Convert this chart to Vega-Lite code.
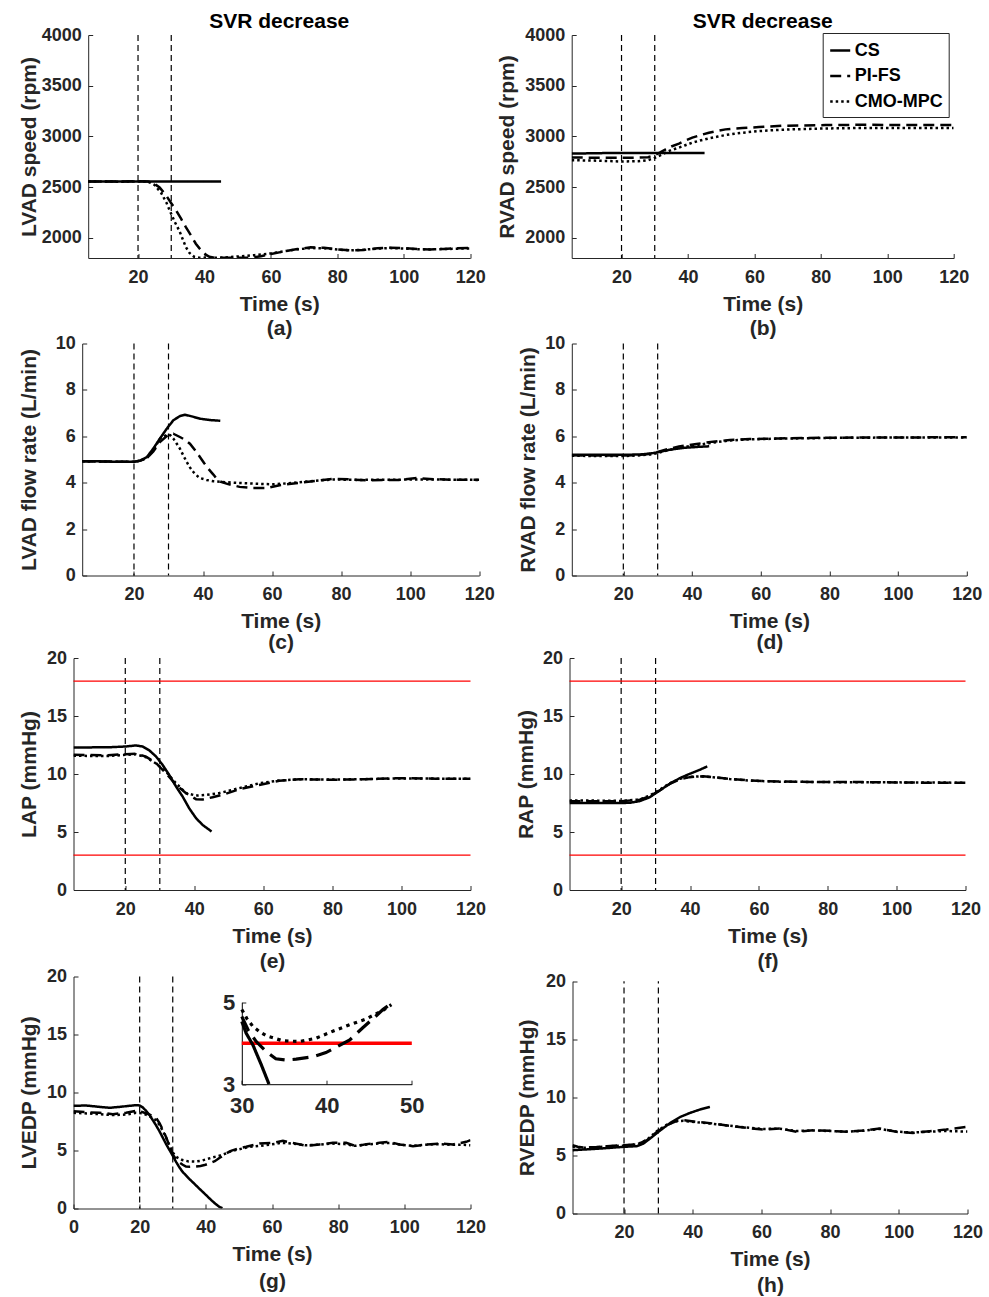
{
  "$schema": "https://vega.github.io/schema/vega-lite/v6.json",
  "padding": {"left": 17.5, "top": 10, "right": 0, "bottom": 0},
  "spacing": -3.5,
  "align": "none",
  "resolve": {"scale": {"strokeDash": "independent"}, "legend": {"strokeDash": "independent"}},
  "config": {
    "font": "Liberation Sans",
    "numberFormat": "d",
    "view": {"stroke": null},
    "axis": {"labelFont": "Liberation Sans", "labelFontWeight": "bold", "labelFontSize": 18, "labelColor": "#262626", "titleFont": "Liberation Sans", "titleFontWeight": "bold", "titleFontSize": 21, "titleColor": "#262626", "domainColor": "#262626", "domainWidth": 1, "tickColor": "#262626", "tickSize": -4.5, "tickWidth": 1, "grid": false, "labelFlush": false, "labelOverlap": false},
    "axisX": {"labelPadding": 14.5, "titlePadding": 7, "titleLineHeight": 23},
    "axisY": {"labelPadding": 11.5},
    "title": {"font": "Liberation Sans", "fontWeight": "bold", "fontSize": 21, "color": "#000000", "baseline": "alphabetic", "offset": -5.5, "anchor": "middle"}
  },
  "datasets": {
    "ev": [{"t": 20}, {"t": 30}],
    "lim": [{"lv": 3}, {"lv": 18}],
    "lim4": [{"lv": 4}],
    "a": [
      {"t": 5, "v": 2555, "m": "CS"}, {"t": 25, "v": 2555, "m": "CS"}, {"t": 45, "v": 2555, "m": "CS"},
      {"t": 5, "v": 2555, "m": "PI-FS"}, {"t": 15, "v": 2555, "m": "PI-FS"}, {"t": 20, "v": 2558, "m": "PI-FS"}, {"t": 23, "v": 2555, "m": "PI-FS"}, {"t": 25, "v": 2530, "m": "PI-FS"}, {"t": 26.5, "v": 2496, "m": "PI-FS"}, {"t": 28.5, "v": 2415, "m": "PI-FS"}, {"t": 30, "v": 2340, "m": "PI-FS"}, {"t": 31.5, "v": 2268, "m": "PI-FS"}, {"t": 33, "v": 2185, "m": "PI-FS"}, {"t": 34.4, "v": 2104, "m": "PI-FS"}, {"t": 36, "v": 2020, "m": "PI-FS"}, {"t": 37.4, "v": 1941, "m": "PI-FS"}, {"t": 38.5, "v": 1895, "m": "PI-FS"}, {"t": 39.5, "v": 1859, "m": "PI-FS"}, {"t": 40.5, "v": 1830, "m": "PI-FS"}, {"t": 41.5, "v": 1812, "m": "PI-FS"}, {"t": 43, "v": 1803, "m": "PI-FS"}, {"t": 46, "v": 1802, "m": "PI-FS"}, {"t": 50, "v": 1802, "m": "PI-FS"}, {"t": 54, "v": 1803, "m": "PI-FS"}, {"t": 57, "v": 1818, "m": "PI-FS"}, {"t": 60, "v": 1840, "m": "PI-FS"}, {"t": 64, "v": 1865, "m": "PI-FS"}, {"t": 68, "v": 1888, "m": "PI-FS"}, {"t": 72, "v": 1905, "m": "PI-FS"}, {"t": 76, "v": 1900, "m": "PI-FS"}, {"t": 80, "v": 1885, "m": "PI-FS"}, {"t": 84, "v": 1875, "m": "PI-FS"}, {"t": 88, "v": 1880, "m": "PI-FS"}, {"t": 92, "v": 1895, "m": "PI-FS"}, {"t": 96, "v": 1902, "m": "PI-FS"}, {"t": 100, "v": 1897, "m": "PI-FS"}, {"t": 104, "v": 1888, "m": "PI-FS"}, {"t": 108, "v": 1885, "m": "PI-FS"}, {"t": 112, "v": 1890, "m": "PI-FS"}, {"t": 116, "v": 1896, "m": "PI-FS"}, {"t": 120, "v": 1900, "m": "PI-FS"},
      {"t": 5, "v": 2555, "m": "CMO-MPC"}, {"t": 15, "v": 2553, "m": "CMO-MPC"}, {"t": 20, "v": 2555, "m": "CMO-MPC"}, {"t": 23, "v": 2555, "m": "CMO-MPC"}, {"t": 25, "v": 2520, "m": "CMO-MPC"}, {"t": 27, "v": 2440, "m": "CMO-MPC"}, {"t": 28.5, "v": 2349, "m": "CMO-MPC"}, {"t": 30, "v": 2235, "m": "CMO-MPC"}, {"t": 31, "v": 2160, "m": "CMO-MPC"}, {"t": 32.4, "v": 2071, "m": "CMO-MPC"}, {"t": 33.4, "v": 1990, "m": "CMO-MPC"}, {"t": 34.4, "v": 1908, "m": "CMO-MPC"}, {"t": 35.5, "v": 1850, "m": "CMO-MPC"}, {"t": 36.9, "v": 1812, "m": "CMO-MPC"}, {"t": 38.5, "v": 1803, "m": "CMO-MPC"}, {"t": 42, "v": 1801, "m": "CMO-MPC"}, {"t": 46, "v": 1805, "m": "CMO-MPC"}, {"t": 50, "v": 1815, "m": "CMO-MPC"}, {"t": 55, "v": 1828, "m": "CMO-MPC"}, {"t": 60, "v": 1845, "m": "CMO-MPC"}, {"t": 64, "v": 1866, "m": "CMO-MPC"}, {"t": 68, "v": 1886, "m": "CMO-MPC"}, {"t": 72, "v": 1898, "m": "CMO-MPC"}, {"t": 76, "v": 1896, "m": "CMO-MPC"}, {"t": 80, "v": 1883, "m": "CMO-MPC"}, {"t": 84, "v": 1876, "m": "CMO-MPC"}, {"t": 88, "v": 1882, "m": "CMO-MPC"}, {"t": 92, "v": 1893, "m": "CMO-MPC"}, {"t": 96, "v": 1898, "m": "CMO-MPC"}, {"t": 100, "v": 1893, "m": "CMO-MPC"}, {"t": 104, "v": 1887, "m": "CMO-MPC"}, {"t": 108, "v": 1885, "m": "CMO-MPC"}, {"t": 112, "v": 1888, "m": "CMO-MPC"}, {"t": 116, "v": 1892, "m": "CMO-MPC"}, {"t": 120, "v": 1895, "m": "CMO-MPC"}
    ],
    "b": [
      {"t": 5, "v": 2830, "m": "CS"}, {"t": 15, "v": 2835, "m": "CS"}, {"t": 25, "v": 2835, "m": "CS"}, {"t": 35, "v": 2835, "m": "CS"}, {"t": 45, "v": 2835, "m": "CS"},
      {"t": 5, "v": 2792, "m": "PI-FS"}, {"t": 10, "v": 2790, "m": "PI-FS"}, {"t": 20, "v": 2790, "m": "PI-FS"}, {"t": 25, "v": 2790, "m": "PI-FS"}, {"t": 28, "v": 2795, "m": "PI-FS"}, {"t": 30, "v": 2815, "m": "PI-FS"}, {"t": 31.5, "v": 2840, "m": "PI-FS"}, {"t": 33.3, "v": 2872, "m": "PI-FS"}, {"t": 35, "v": 2900, "m": "PI-FS"}, {"t": 37.3, "v": 2928, "m": "PI-FS"}, {"t": 39, "v": 2955, "m": "PI-FS"}, {"t": 41.3, "v": 2987, "m": "PI-FS"}, {"t": 44, "v": 3015, "m": "PI-FS"}, {"t": 46.3, "v": 3036, "m": "PI-FS"}, {"t": 49, "v": 3055, "m": "PI-FS"}, {"t": 51.3, "v": 3069, "m": "PI-FS"}, {"t": 54, "v": 3077, "m": "PI-FS"}, {"t": 56.4, "v": 3082, "m": "PI-FS"}, {"t": 61.4, "v": 3092, "m": "PI-FS"}, {"t": 68.4, "v": 3105, "m": "PI-FS"}, {"t": 75, "v": 3108, "m": "PI-FS"}, {"t": 81.4, "v": 3111, "m": "PI-FS"}, {"t": 91.5, "v": 3114, "m": "PI-FS"}, {"t": 100, "v": 3113, "m": "PI-FS"}, {"t": 110, "v": 3112, "m": "PI-FS"}, {"t": 120, "v": 3111, "m": "PI-FS"},
      {"t": 5, "v": 2765, "m": "CMO-MPC"}, {"t": 10, "v": 2762, "m": "CMO-MPC"}, {"t": 15, "v": 2758, "m": "CMO-MPC"}, {"t": 20, "v": 2752, "m": "CMO-MPC"}, {"t": 25, "v": 2755, "m": "CMO-MPC"}, {"t": 28, "v": 2765, "m": "CMO-MPC"}, {"t": 30, "v": 2788, "m": "CMO-MPC"}, {"t": 31.5, "v": 2810, "m": "CMO-MPC"}, {"t": 33.3, "v": 2840, "m": "CMO-MPC"}, {"t": 35, "v": 2865, "m": "CMO-MPC"}, {"t": 37.3, "v": 2889, "m": "CMO-MPC"}, {"t": 39, "v": 2910, "m": "CMO-MPC"}, {"t": 41.3, "v": 2938, "m": "CMO-MPC"}, {"t": 44, "v": 2962, "m": "CMO-MPC"}, {"t": 46.3, "v": 2980, "m": "CMO-MPC"}, {"t": 49, "v": 2998, "m": "CMO-MPC"}, {"t": 51.3, "v": 3013, "m": "CMO-MPC"}, {"t": 54, "v": 3026, "m": "CMO-MPC"}, {"t": 56.4, "v": 3036, "m": "CMO-MPC"}, {"t": 61.4, "v": 3052, "m": "CMO-MPC"}, {"t": 66, "v": 3062, "m": "CMO-MPC"}, {"t": 71.4, "v": 3069, "m": "CMO-MPC"}, {"t": 81.4, "v": 3078, "m": "CMO-MPC"}, {"t": 91.5, "v": 3082, "m": "CMO-MPC"}, {"t": 120, "v": 3082, "m": "CMO-MPC"}
    ],
    "c": [
      {"t": 5, "v": 4.92, "m": "CS"}, {"t": 10, "v": 4.92, "m": "CS"}, {"t": 15, "v": 4.9, "m": "CS"}, {"t": 20, "v": 4.9, "m": "CS"}, {"t": 21.7, "v": 4.95, "m": "CS"}, {"t": 23.7, "v": 5.1, "m": "CS"}, {"t": 25.6, "v": 5.47, "m": "CS"}, {"t": 27.5, "v": 5.9, "m": "CS"}, {"t": 29.5, "v": 6.33, "m": "CS"}, {"t": 31.4, "v": 6.69, "m": "CS"}, {"t": 33.3, "v": 6.87, "m": "CS"}, {"t": 34.8, "v": 6.93, "m": "CS"}, {"t": 36.7, "v": 6.86, "m": "CS"}, {"t": 39.1, "v": 6.76, "m": "CS"}, {"t": 42, "v": 6.7, "m": "CS"}, {"t": 45, "v": 6.67, "m": "CS"},
      {"t": 5, "v": 4.92, "m": "PI-FS"}, {"t": 20, "v": 4.9, "m": "PI-FS"}, {"t": 22, "v": 4.95, "m": "PI-FS"}, {"t": 24, "v": 5.1, "m": "PI-FS"}, {"t": 25.6, "v": 5.35, "m": "PI-FS"}, {"t": 27.5, "v": 5.75, "m": "PI-FS"}, {"t": 29.5, "v": 6.01, "m": "PI-FS"}, {"t": 31.4, "v": 6.11, "m": "PI-FS"}, {"t": 33.3, "v": 5.97, "m": "PI-FS"}, {"t": 34.8, "v": 5.85, "m": "PI-FS"}, {"t": 36.2, "v": 5.68, "m": "PI-FS"}, {"t": 37.7, "v": 5.4, "m": "PI-FS"}, {"t": 39.1, "v": 5.11, "m": "PI-FS"}, {"t": 40.3, "v": 4.85, "m": "PI-FS"}, {"t": 41.5, "v": 4.61, "m": "PI-FS"}, {"t": 43, "v": 4.35, "m": "PI-FS"}, {"t": 43.9, "v": 4.18, "m": "PI-FS"}, {"t": 45, "v": 4.05, "m": "PI-FS"}, {"t": 46.8, "v": 3.96, "m": "PI-FS"}, {"t": 50.6, "v": 3.82, "m": "PI-FS"}, {"t": 54.5, "v": 3.77, "m": "PI-FS"}, {"t": 58.4, "v": 3.77, "m": "PI-FS"}, {"t": 62.2, "v": 3.89, "m": "PI-FS"}, {"t": 68, "v": 4.0, "m": "PI-FS"}, {"t": 73.9, "v": 4.1, "m": "PI-FS"}, {"t": 77.8, "v": 4.17, "m": "PI-FS"}, {"t": 82, "v": 4.15, "m": "PI-FS"}, {"t": 87.4, "v": 4.1, "m": "PI-FS"}, {"t": 92, "v": 4.12, "m": "PI-FS"}, {"t": 97.1, "v": 4.12, "m": "PI-FS"}, {"t": 101.9, "v": 4.2, "m": "PI-FS"}, {"t": 106.8, "v": 4.15, "m": "PI-FS"}, {"t": 112, "v": 4.13, "m": "PI-FS"}, {"t": 120, "v": 4.13, "m": "PI-FS"},
      {"t": 5, "v": 4.92, "m": "CMO-MPC"}, {"t": 20, "v": 4.9, "m": "CMO-MPC"}, {"t": 22, "v": 4.95, "m": "CMO-MPC"}, {"t": 24, "v": 5.1, "m": "CMO-MPC"}, {"t": 25.6, "v": 5.4, "m": "CMO-MPC"}, {"t": 27.5, "v": 5.9, "m": "CMO-MPC"}, {"t": 29.5, "v": 6.07, "m": "CMO-MPC"}, {"t": 30.5, "v": 6.05, "m": "CMO-MPC"}, {"t": 31.4, "v": 5.9, "m": "CMO-MPC"}, {"t": 32.3, "v": 5.7, "m": "CMO-MPC"}, {"t": 33.3, "v": 5.47, "m": "CMO-MPC"}, {"t": 34.3, "v": 5.17, "m": "CMO-MPC"}, {"t": 35.3, "v": 4.89, "m": "CMO-MPC"}, {"t": 36.2, "v": 4.66, "m": "CMO-MPC"}, {"t": 37.2, "v": 4.46, "m": "CMO-MPC"}, {"t": 38.1, "v": 4.32, "m": "CMO-MPC"}, {"t": 39.1, "v": 4.2, "m": "CMO-MPC"}, {"t": 41, "v": 4.12, "m": "CMO-MPC"}, {"t": 43, "v": 4.06, "m": "CMO-MPC"}, {"t": 48.8, "v": 4.0, "m": "CMO-MPC"}, {"t": 54.5, "v": 3.96, "m": "CMO-MPC"}, {"t": 60.3, "v": 3.93, "m": "CMO-MPC"}, {"t": 66.1, "v": 3.99, "m": "CMO-MPC"}, {"t": 70, "v": 4.05, "m": "CMO-MPC"}, {"t": 73.9, "v": 4.1, "m": "CMO-MPC"}, {"t": 77.8, "v": 4.14, "m": "CMO-MPC"}, {"t": 85, "v": 4.12, "m": "CMO-MPC"}, {"t": 95, "v": 4.13, "m": "CMO-MPC"}, {"t": 105, "v": 4.14, "m": "CMO-MPC"}, {"t": 120, "v": 4.12, "m": "CMO-MPC"}
    ],
    "d": [
      {"t": 5, "v": 5.21, "m": "CS"}, {"t": 15, "v": 5.2, "m": "CS"}, {"t": 20, "v": 5.2, "m": "CS"}, {"t": 25, "v": 5.22, "m": "CS"}, {"t": 27.5, "v": 5.25, "m": "CS"}, {"t": 30, "v": 5.31, "m": "CS"}, {"t": 33.5, "v": 5.42, "m": "CS"}, {"t": 37.4, "v": 5.5, "m": "CS"}, {"t": 41.3, "v": 5.54, "m": "CS"}, {"t": 45, "v": 5.57, "m": "CS"},
      {"t": 5, "v": 5.18, "m": "PI-FS"}, {"t": 15, "v": 5.17, "m": "PI-FS"}, {"t": 20, "v": 5.17, "m": "PI-FS"}, {"t": 25, "v": 5.2, "m": "PI-FS"}, {"t": 28, "v": 5.25, "m": "PI-FS"}, {"t": 30, "v": 5.33, "m": "PI-FS"}, {"t": 33, "v": 5.45, "m": "PI-FS"}, {"t": 36.2, "v": 5.56, "m": "PI-FS"}, {"t": 41.3, "v": 5.67, "m": "PI-FS"}, {"t": 46.1, "v": 5.77, "m": "PI-FS"}, {"t": 51, "v": 5.84, "m": "PI-FS"}, {"t": 56.8, "v": 5.88, "m": "PI-FS"}, {"t": 65.5, "v": 5.91, "m": "PI-FS"}, {"t": 80, "v": 5.94, "m": "PI-FS"}, {"t": 100, "v": 5.95, "m": "PI-FS"}, {"t": 120, "v": 5.96, "m": "PI-FS"},
      {"t": 5, "v": 5.16, "m": "CMO-MPC"}, {"t": 15, "v": 5.15, "m": "CMO-MPC"}, {"t": 20, "v": 5.15, "m": "CMO-MPC"}, {"t": 25, "v": 5.18, "m": "CMO-MPC"}, {"t": 28, "v": 5.22, "m": "CMO-MPC"}, {"t": 30, "v": 5.28, "m": "CMO-MPC"}, {"t": 33, "v": 5.4, "m": "CMO-MPC"}, {"t": 36.2, "v": 5.5, "m": "CMO-MPC"}, {"t": 41.3, "v": 5.62, "m": "CMO-MPC"}, {"t": 46.1, "v": 5.73, "m": "CMO-MPC"}, {"t": 51, "v": 5.82, "m": "CMO-MPC"}, {"t": 56.8, "v": 5.87, "m": "CMO-MPC"}, {"t": 65.5, "v": 5.9, "m": "CMO-MPC"}, {"t": 80, "v": 5.93, "m": "CMO-MPC"}, {"t": 100, "v": 5.95, "m": "CMO-MPC"}, {"t": 120, "v": 5.95, "m": "CMO-MPC"}
    ],
    "e": [
      {"t": 5, "v": 12.29, "m": "CS"}, {"t": 15, "v": 12.3, "m": "CS"}, {"t": 20, "v": 12.37, "m": "CS"}, {"t": 23.1, "v": 12.46, "m": "CS"}, {"t": 25, "v": 12.37, "m": "CS"}, {"t": 27, "v": 12.03, "m": "CS"}, {"t": 28.9, "v": 11.51, "m": "CS"}, {"t": 30.8, "v": 10.79, "m": "CS"}, {"t": 32.7, "v": 9.93, "m": "CS"}, {"t": 34.7, "v": 8.92, "m": "CS"}, {"t": 36.6, "v": 8.06, "m": "CS"}, {"t": 38.5, "v": 7.05, "m": "CS"}, {"t": 40.5, "v": 6.19, "m": "CS"}, {"t": 42.4, "v": 5.61, "m": "CS"}, {"t": 45, "v": 5.04, "m": "CS"},
      {"t": 5, "v": 11.65, "m": "PI-FS"}, {"t": 15, "v": 11.62, "m": "PI-FS"}, {"t": 20, "v": 11.71, "m": "PI-FS"}, {"t": 23.1, "v": 11.74, "m": "PI-FS"}, {"t": 26, "v": 11.5, "m": "PI-FS"}, {"t": 28.9, "v": 10.94, "m": "PI-FS"}, {"t": 31.8, "v": 10.07, "m": "PI-FS"}, {"t": 34.7, "v": 9.06, "m": "PI-FS"}, {"t": 37.6, "v": 8.35, "m": "PI-FS"}, {"t": 40.5, "v": 7.83, "m": "PI-FS"}, {"t": 42.4, "v": 7.8, "m": "PI-FS"}, {"t": 45.3, "v": 8.0, "m": "PI-FS"}, {"t": 49.2, "v": 8.3, "m": "PI-FS"}, {"t": 53, "v": 8.69, "m": "PI-FS"}, {"t": 58.8, "v": 9.06, "m": "PI-FS"}, {"t": 64.6, "v": 9.41, "m": "PI-FS"}, {"t": 70.4, "v": 9.55, "m": "PI-FS"}, {"t": 80.1, "v": 9.5, "m": "PI-FS"}, {"t": 89.7, "v": 9.55, "m": "PI-FS"}, {"t": 99.4, "v": 9.64, "m": "PI-FS"}, {"t": 110, "v": 9.6, "m": "PI-FS"}, {"t": 120, "v": 9.58, "m": "PI-FS"},
      {"t": 5, "v": 11.57, "m": "CMO-MPC"}, {"t": 15, "v": 11.55, "m": "CMO-MPC"}, {"t": 20, "v": 11.65, "m": "CMO-MPC"}, {"t": 23.1, "v": 11.7, "m": "CMO-MPC"}, {"t": 26, "v": 11.45, "m": "CMO-MPC"}, {"t": 28.9, "v": 10.9, "m": "CMO-MPC"}, {"t": 31.8, "v": 10.2, "m": "CMO-MPC"}, {"t": 34.7, "v": 9.2, "m": "CMO-MPC"}, {"t": 37.6, "v": 8.35, "m": "CMO-MPC"}, {"t": 40.5, "v": 8.14, "m": "CMO-MPC"}, {"t": 43.4, "v": 8.2, "m": "CMO-MPC"}, {"t": 47.2, "v": 8.35, "m": "CMO-MPC"}, {"t": 53, "v": 8.78, "m": "CMO-MPC"}, {"t": 58.8, "v": 9.2, "m": "CMO-MPC"}, {"t": 64.6, "v": 9.44, "m": "CMO-MPC"}, {"t": 70.4, "v": 9.55, "m": "CMO-MPC"}, {"t": 80, "v": 9.52, "m": "CMO-MPC"}, {"t": 90, "v": 9.56, "m": "CMO-MPC"}, {"t": 100, "v": 9.62, "m": "CMO-MPC"}, {"t": 110, "v": 9.6, "m": "CMO-MPC"}, {"t": 120, "v": 9.6, "m": "CMO-MPC"}
    ],
    "f": [
      {"t": 5, "v": 7.49, "m": "CS"}, {"t": 15, "v": 7.49, "m": "CS"}, {"t": 20, "v": 7.5, "m": "CS"}, {"t": 22.5, "v": 7.52, "m": "CS"}, {"t": 25.4, "v": 7.66, "m": "CS"}, {"t": 28.3, "v": 8.0, "m": "CS"}, {"t": 31.2, "v": 8.58, "m": "CS"}, {"t": 34.1, "v": 9.15, "m": "CS"}, {"t": 37, "v": 9.64, "m": "CS"}, {"t": 39.9, "v": 10.01, "m": "CS"}, {"t": 42.8, "v": 10.36, "m": "CS"}, {"t": 45, "v": 10.65, "m": "CS"},
      {"t": 5, "v": 7.66, "m": "PI-FS"}, {"t": 15, "v": 7.66, "m": "PI-FS"}, {"t": 20, "v": 7.66, "m": "PI-FS"}, {"t": 25.4, "v": 7.78, "m": "PI-FS"}, {"t": 28.3, "v": 8.09, "m": "PI-FS"}, {"t": 31.2, "v": 8.58, "m": "PI-FS"}, {"t": 34.1, "v": 9.15, "m": "PI-FS"}, {"t": 37, "v": 9.53, "m": "PI-FS"}, {"t": 39.9, "v": 9.73, "m": "PI-FS"}, {"t": 43.8, "v": 9.81, "m": "PI-FS"}, {"t": 46.7, "v": 9.73, "m": "PI-FS"}, {"t": 51.5, "v": 9.58, "m": "PI-FS"}, {"t": 57.3, "v": 9.44, "m": "PI-FS"}, {"t": 66, "v": 9.35, "m": "PI-FS"}, {"t": 80.5, "v": 9.3, "m": "PI-FS"}, {"t": 90.2, "v": 9.3, "m": "PI-FS"}, {"t": 99.9, "v": 9.27, "m": "PI-FS"}, {"t": 110, "v": 9.25, "m": "PI-FS"}, {"t": 120, "v": 9.24, "m": "PI-FS"},
      {"t": 5, "v": 7.72, "m": "CMO-MPC"}, {"t": 15, "v": 7.7, "m": "CMO-MPC"}, {"t": 20, "v": 7.68, "m": "CMO-MPC"}, {"t": 25.4, "v": 7.8, "m": "CMO-MPC"}, {"t": 28.3, "v": 8.15, "m": "CMO-MPC"}, {"t": 31.2, "v": 8.65, "m": "CMO-MPC"}, {"t": 34.1, "v": 9.2, "m": "CMO-MPC"}, {"t": 37, "v": 9.58, "m": "CMO-MPC"}, {"t": 39.9, "v": 9.75, "m": "CMO-MPC"}, {"t": 43.8, "v": 9.8, "m": "CMO-MPC"}, {"t": 46.7, "v": 9.72, "m": "CMO-MPC"}, {"t": 51.5, "v": 9.57, "m": "CMO-MPC"}, {"t": 57.3, "v": 9.43, "m": "CMO-MPC"}, {"t": 66, "v": 9.34, "m": "CMO-MPC"}, {"t": 80.5, "v": 9.3, "m": "CMO-MPC"}, {"t": 99.9, "v": 9.28, "m": "CMO-MPC"}, {"t": 120, "v": 9.25, "m": "CMO-MPC"}
    ],
    "g": [
      {"t": 0, "v": 8.85, "m": "CS"}, {"t": 3.8, "v": 8.88, "m": "CS"}, {"t": 7.9, "v": 8.76, "m": "CS"}, {"t": 10.9, "v": 8.68, "m": "CS"}, {"t": 13.9, "v": 8.76, "m": "CS"}, {"t": 16.9, "v": 8.85, "m": "CS"}, {"t": 18.9, "v": 8.91, "m": "CS"}, {"t": 20, "v": 8.88, "m": "CS"}, {"t": 21, "v": 8.7, "m": "CS"}, {"t": 22, "v": 8.4, "m": "CS"}, {"t": 23, "v": 8.05, "m": "CS"}, {"t": 24, "v": 7.6, "m": "CS"}, {"t": 25, "v": 7.15, "m": "CS"}, {"t": 26, "v": 6.65, "m": "CS"}, {"t": 27, "v": 6.1, "m": "CS"}, {"t": 28, "v": 5.55, "m": "CS"}, {"t": 29, "v": 5.05, "m": "CS"}, {"t": 30, "v": 4.55, "m": "CS"}, {"t": 31, "v": 4.02, "m": "CS"}, {"t": 32, "v": 3.55, "m": "CS"}, {"t": 33, "v": 3.15, "m": "CS"}, {"t": 34, "v": 2.85, "m": "CS"}, {"t": 35, "v": 2.55, "m": "CS"}, {"t": 36, "v": 2.28, "m": "CS"}, {"t": 37, "v": 2.0, "m": "CS"}, {"t": 38, "v": 1.72, "m": "CS"}, {"t": 39, "v": 1.45, "m": "CS"}, {"t": 40, "v": 1.18, "m": "CS"}, {"t": 41, "v": 0.9, "m": "CS"}, {"t": 42, "v": 0.63, "m": "CS"}, {"t": 43, "v": 0.38, "m": "CS"}, {"t": 44, "v": 0.16, "m": "CS"}, {"t": 45, "v": 0.02, "m": "CS"},
      {"t": 0, "v": 8.39, "m": "PI-FS"}, {"t": 4, "v": 8.3, "m": "PI-FS"}, {"t": 7.9, "v": 8.25, "m": "PI-FS"}, {"t": 11.9, "v": 8.13, "m": "PI-FS"}, {"t": 15.9, "v": 8.25, "m": "PI-FS"}, {"t": 18.9, "v": 8.42, "m": "PI-FS"}, {"t": 21, "v": 8.3, "m": "PI-FS"}, {"t": 23, "v": 8.1, "m": "PI-FS"}, {"t": 25, "v": 7.8, "m": "PI-FS"}, {"t": 26, "v": 7.35, "m": "PI-FS"}, {"t": 27, "v": 6.8, "m": "PI-FS"}, {"t": 28, "v": 6.15, "m": "PI-FS"}, {"t": 29, "v": 5.4, "m": "PI-FS"}, {"t": 30, "v": 4.65, "m": "PI-FS"}, {"t": 31, "v": 4.25, "m": "PI-FS"}, {"t": 31.7, "v": 4.04, "m": "PI-FS"}, {"t": 32.9, "v": 3.79, "m": "PI-FS"}, {"t": 34, "v": 3.62, "m": "PI-FS"}, {"t": 35.2, "v": 3.59, "m": "PI-FS"}, {"t": 36.4, "v": 3.61, "m": "PI-FS"}, {"t": 38.4, "v": 3.67, "m": "PI-FS"}, {"t": 39.9, "v": 3.77, "m": "PI-FS"}, {"t": 41.1, "v": 3.9, "m": "PI-FS"}, {"t": 42.7, "v": 4.08, "m": "PI-FS"}, {"t": 44.2, "v": 4.37, "m": "PI-FS"}, {"t": 45.4, "v": 4.59, "m": "PI-FS"}, {"t": 46.6, "v": 4.82, "m": "PI-FS"}, {"t": 47.6, "v": 4.97, "m": "PI-FS"}, {"t": 50, "v": 5.2, "m": "PI-FS"}, {"t": 52.2, "v": 5.32, "m": "PI-FS"}, {"t": 56.2, "v": 5.6, "m": "PI-FS"}, {"t": 60.3, "v": 5.66, "m": "PI-FS"}, {"t": 63.3, "v": 5.83, "m": "PI-FS"}, {"t": 66.3, "v": 5.66, "m": "PI-FS"}, {"t": 70.3, "v": 5.4, "m": "PI-FS"}, {"t": 74.4, "v": 5.52, "m": "PI-FS"}, {"t": 78.4, "v": 5.66, "m": "PI-FS"}, {"t": 82.4, "v": 5.66, "m": "PI-FS"}, {"t": 85.4, "v": 5.37, "m": "PI-FS"}, {"t": 88.5, "v": 5.55, "m": "PI-FS"}, {"t": 92.5, "v": 5.66, "m": "PI-FS"}, {"t": 95.5, "v": 5.75, "m": "PI-FS"}, {"t": 98.5, "v": 5.52, "m": "PI-FS"}, {"t": 102.6, "v": 5.37, "m": "PI-FS"}, {"t": 106.6, "v": 5.52, "m": "PI-FS"}, {"t": 110.6, "v": 5.6, "m": "PI-FS"}, {"t": 114.7, "v": 5.52, "m": "PI-FS"}, {"t": 118.7, "v": 5.75, "m": "PI-FS"}, {"t": 120, "v": 5.89, "m": "PI-FS"},
      {"t": 0, "v": 8.25, "m": "CMO-MPC"}, {"t": 4, "v": 8.2, "m": "CMO-MPC"}, {"t": 7.9, "v": 8.13, "m": "CMO-MPC"}, {"t": 12, "v": 8.05, "m": "CMO-MPC"}, {"t": 16, "v": 8.1, "m": "CMO-MPC"}, {"t": 18.9, "v": 8.25, "m": "CMO-MPC"}, {"t": 21, "v": 8.2, "m": "CMO-MPC"}, {"t": 23, "v": 7.95, "m": "CMO-MPC"}, {"t": 25, "v": 7.6, "m": "CMO-MPC"}, {"t": 26, "v": 7.2, "m": "CMO-MPC"}, {"t": 27, "v": 6.7, "m": "CMO-MPC"}, {"t": 28, "v": 6.1, "m": "CMO-MPC"}, {"t": 29, "v": 5.45, "m": "CMO-MPC"}, {"t": 30, "v": 4.82, "m": "CMO-MPC"}, {"t": 31.3, "v": 4.41, "m": "CMO-MPC"}, {"t": 32.9, "v": 4.18, "m": "CMO-MPC"}, {"t": 34.8, "v": 4.06, "m": "CMO-MPC"}, {"t": 36.8, "v": 4.04, "m": "CMO-MPC"}, {"t": 38.7, "v": 4.12, "m": "CMO-MPC"}, {"t": 40.7, "v": 4.29, "m": "CMO-MPC"}, {"t": 42.7, "v": 4.45, "m": "CMO-MPC"}, {"t": 44.6, "v": 4.59, "m": "CMO-MPC"}, {"t": 46.6, "v": 4.8, "m": "CMO-MPC"}, {"t": 47.6, "v": 4.94, "m": "CMO-MPC"}, {"t": 50, "v": 5.1, "m": "CMO-MPC"}, {"t": 53, "v": 5.3, "m": "CMO-MPC"}, {"t": 58.2, "v": 5.46, "m": "CMO-MPC"}, {"t": 63, "v": 5.66, "m": "CMO-MPC"}, {"t": 66, "v": 5.6, "m": "CMO-MPC"}, {"t": 70, "v": 5.45, "m": "CMO-MPC"}, {"t": 74, "v": 5.5, "m": "CMO-MPC"}, {"t": 78, "v": 5.6, "m": "CMO-MPC"}, {"t": 82, "v": 5.55, "m": "CMO-MPC"}, {"t": 85, "v": 5.4, "m": "CMO-MPC"}, {"t": 88, "v": 5.5, "m": "CMO-MPC"}, {"t": 92, "v": 5.6, "m": "CMO-MPC"}, {"t": 95.5, "v": 5.65, "m": "CMO-MPC"}, {"t": 99, "v": 5.5, "m": "CMO-MPC"}, {"t": 102.6, "v": 5.4, "m": "CMO-MPC"}, {"t": 106.6, "v": 5.5, "m": "CMO-MPC"}, {"t": 110, "v": 5.55, "m": "CMO-MPC"}, {"t": 114, "v": 5.5, "m": "CMO-MPC"}, {"t": 118, "v": 5.5, "m": "CMO-MPC"}, {"t": 120, "v": 5.45, "m": "CMO-MPC"}
    ],
    "gi": [
      {"t": 30, "v": 4.53, "m": "CS"}, {"t": 30.5, "v": 4.25, "m": "CS"}, {"t": 31.3, "v": 3.96, "m": "CS"}, {"t": 32.3, "v": 3.47, "m": "CS"}, {"t": 33.2, "v": 3.0, "m": "CS"},
      {"t": 30, "v": 4.65, "m": "PI-FS"}, {"t": 30.8, "v": 4.3, "m": "PI-FS"}, {"t": 31.7, "v": 4.04, "m": "PI-FS"}, {"t": 32.9, "v": 3.79, "m": "PI-FS"}, {"t": 34, "v": 3.62, "m": "PI-FS"}, {"t": 35.2, "v": 3.59, "m": "PI-FS"}, {"t": 36.4, "v": 3.61, "m": "PI-FS"}, {"t": 38.4, "v": 3.67, "m": "PI-FS"}, {"t": 39.9, "v": 3.77, "m": "PI-FS"}, {"t": 41.1, "v": 3.9, "m": "PI-FS"}, {"t": 42.7, "v": 4.08, "m": "PI-FS"}, {"t": 44.2, "v": 4.37, "m": "PI-FS"}, {"t": 45.4, "v": 4.59, "m": "PI-FS"}, {"t": 46.6, "v": 4.82, "m": "PI-FS"}, {"t": 47.6, "v": 4.97, "m": "PI-FS"},
      {"t": 30, "v": 4.82, "m": "CMO-MPC"}, {"t": 30.6, "v": 4.6, "m": "CMO-MPC"}, {"t": 31.3, "v": 4.41, "m": "CMO-MPC"}, {"t": 32.1, "v": 4.28, "m": "CMO-MPC"}, {"t": 32.9, "v": 4.18, "m": "CMO-MPC"}, {"t": 34.8, "v": 4.06, "m": "CMO-MPC"}, {"t": 36.8, "v": 4.04, "m": "CMO-MPC"}, {"t": 38.7, "v": 4.12, "m": "CMO-MPC"}, {"t": 40.7, "v": 4.29, "m": "CMO-MPC"}, {"t": 42.7, "v": 4.45, "m": "CMO-MPC"}, {"t": 44.6, "v": 4.59, "m": "CMO-MPC"}, {"t": 46.6, "v": 4.8, "m": "CMO-MPC"}, {"t": 47.6, "v": 4.94, "m": "CMO-MPC"}
    ],
    "h": [
      {"t": 5, "v": 5.45, "m": "CS"}, {"t": 12, "v": 5.57, "m": "CS"}, {"t": 20, "v": 5.74, "m": "CS"}, {"t": 23.8, "v": 5.8, "m": "CS"}, {"t": 25.7, "v": 6.03, "m": "CS"}, {"t": 27.6, "v": 6.46, "m": "CS"}, {"t": 30.6, "v": 7.17, "m": "CS"}, {"t": 33.5, "v": 7.8, "m": "CS"}, {"t": 36.4, "v": 8.32, "m": "CS"}, {"t": 39.3, "v": 8.67, "m": "CS"}, {"t": 42.1, "v": 8.95, "m": "CS"}, {"t": 45, "v": 9.18, "m": "CS"},
      {"t": 5, "v": 5.88, "m": "PI-FS"}, {"t": 6.5, "v": 5.75, "m": "PI-FS"}, {"t": 8.3, "v": 5.68, "m": "PI-FS"}, {"t": 12, "v": 5.72, "m": "PI-FS"}, {"t": 15, "v": 5.8, "m": "PI-FS"}, {"t": 20, "v": 5.88, "m": "PI-FS"}, {"t": 23.8, "v": 5.97, "m": "PI-FS"}, {"t": 26.7, "v": 6.31, "m": "PI-FS"}, {"t": 29.6, "v": 7.03, "m": "PI-FS"}, {"t": 32.5, "v": 7.6, "m": "PI-FS"}, {"t": 35.4, "v": 7.98, "m": "PI-FS"}, {"t": 37.3, "v": 8.03, "m": "PI-FS"}, {"t": 41.2, "v": 7.89, "m": "PI-FS"}, {"t": 46, "v": 7.75, "m": "PI-FS"}, {"t": 50.9, "v": 7.55, "m": "PI-FS"}, {"t": 55.7, "v": 7.37, "m": "PI-FS"}, {"t": 60.6, "v": 7.23, "m": "PI-FS"}, {"t": 65.4, "v": 7.32, "m": "PI-FS"}, {"t": 70.2, "v": 7.03, "m": "PI-FS"}, {"t": 75.1, "v": 7.17, "m": "PI-FS"}, {"t": 79.9, "v": 7.12, "m": "PI-FS"}, {"t": 84.8, "v": 7.03, "m": "PI-FS"}, {"t": 89.6, "v": 7.14, "m": "PI-FS"}, {"t": 94.4, "v": 7.32, "m": "PI-FS"}, {"t": 99.3, "v": 7.03, "m": "PI-FS"}, {"t": 104.1, "v": 6.94, "m": "PI-FS"}, {"t": 109, "v": 7.09, "m": "PI-FS"}, {"t": 113.8, "v": 7.23, "m": "PI-FS"}, {"t": 120, "v": 7.46, "m": "PI-FS"},
      {"t": 5, "v": 5.75, "m": "CMO-MPC"}, {"t": 8, "v": 5.65, "m": "CMO-MPC"}, {"t": 12, "v": 5.7, "m": "CMO-MPC"}, {"t": 15, "v": 5.78, "m": "CMO-MPC"}, {"t": 20, "v": 5.85, "m": "CMO-MPC"}, {"t": 23.8, "v": 5.95, "m": "CMO-MPC"}, {"t": 26.7, "v": 6.35, "m": "CMO-MPC"}, {"t": 29.6, "v": 7.1, "m": "CMO-MPC"}, {"t": 32.5, "v": 7.65, "m": "CMO-MPC"}, {"t": 35.4, "v": 7.95, "m": "CMO-MPC"}, {"t": 37.3, "v": 7.98, "m": "CMO-MPC"}, {"t": 41.2, "v": 7.85, "m": "CMO-MPC"}, {"t": 46, "v": 7.72, "m": "CMO-MPC"}, {"t": 50.9, "v": 7.55, "m": "CMO-MPC"}, {"t": 55.7, "v": 7.4, "m": "CMO-MPC"}, {"t": 60.6, "v": 7.28, "m": "CMO-MPC"}, {"t": 65.4, "v": 7.3, "m": "CMO-MPC"}, {"t": 70.2, "v": 7.1, "m": "CMO-MPC"}, {"t": 75.1, "v": 7.15, "m": "CMO-MPC"}, {"t": 79.9, "v": 7.1, "m": "CMO-MPC"}, {"t": 84.8, "v": 7.05, "m": "CMO-MPC"}, {"t": 89.6, "v": 7.12, "m": "CMO-MPC"}, {"t": 94.4, "v": 7.28, "m": "CMO-MPC"}, {"t": 99.3, "v": 7.05, "m": "CMO-MPC"}, {"t": 104.1, "v": 6.97, "m": "CMO-MPC"}, {"t": 109, "v": 7.05, "m": "CMO-MPC"}, {"t": 113.8, "v": 7.1, "m": "CMO-MPC"}, {"t": 120, "v": 7.05, "m": "CMO-MPC"}
    ]
  },
  "vconcat": [
    {
      "spacing": 10.2,
      "resolve": {"scale": {"strokeDash": "independent"}, "legend": {"strokeDash": "independent"}},
      "hconcat": [
        {
          "width": 396.7, "height": 223,
          "title": {"text": "SVR decrease", "dx": 7.35},
          "layer": [
            {"data": {"name": "ev"}, "mark": {"type": "rule", "strokeDash": [6, 4], "strokeWidth": 1.2, "color": "black"}, "encoding": {"x": {"field": "t", "type": "quantitative"}}},
            {"data": {"name": "a"}, "mark": {"type": "line", "clip": true, "color": "black", "strokeWidth": 2.5},
             "encoding": {
               "x": {"field": "t", "type": "quantitative", "scale": {"domain": [5, 120], "range": [14.7, 396.7], "nice": false, "zero": false}, "axis": {"values": [20, 40, 60, 80, 100, 120], "title": ["Time (s)", "(a)"], "titleLineHeight": 24}},
               "y": {"field": "v", "type": "quantitative", "scale": {"domain": [1800, 4000], "nice": false, "zero": false}, "axis": {"values": [2000, 2500, 3000, 3500, 4000], "format": "d", "title": "LVAD speed (rpm)", "titlePadding": 1.7, "offset": -14.7}},
               "strokeDash": {"field": "m", "type": "nominal", "scale": {"domain": ["CS", "PI-FS", "CMO-MPC"], "range": [[1, 0], [11, 6], [2.5, 3]]}, "legend": null}
             }}
          ]
        },
        {
          "width": 382, "height": 223,
          "title": {"text": "SVR decrease"},
          "layer": [
            {"data": {"name": "ev"}, "mark": {"type": "rule", "strokeDash": [6, 4], "strokeWidth": 1.2, "color": "black"}, "encoding": {"x": {"field": "t", "type": "quantitative"}}},
            {"data": {"name": "b"}, "mark": {"type": "line", "clip": true, "color": "black", "strokeWidth": 2.5},
             "encoding": {
               "x": {"field": "t", "type": "quantitative", "scale": {"domain": [5, 120], "nice": false, "zero": false}, "axis": {"values": [20, 40, 60, 80, 100, 120], "title": ["Time (s)", "(b)"], "titleLineHeight": 24}},
               "y": {"field": "v", "type": "quantitative", "scale": {"domain": [1800, 4000], "nice": false, "zero": false}, "axis": {"values": [2000, 2500, 3000, 3500, 4000], "format": "d", "title": "RVAD speed (rpm)", "titlePadding": 7.3}},
               "strokeDash": {"field": "m", "type": "nominal", "scale": {"domain": ["CS", "PI-FS", "CMO-MPC"], "range": [[1, 0], [11, 6], [2.5, 3]]},
                 "legend": {"orient": "none", "legendX": 251, "legendY": -2, "title": null, "symbolType": "stroke", "symbolSize": 400, "symbolStrokeWidth": 2.5, "symbolStrokeColor": "black", "labelFont": "Liberation Sans", "labelFontSize": 18, "labelFontWeight": "bold", "labelColor": "#000000", "labelOffset": 3, "rowPadding": 4.5, "padding": 6, "strokeColor": "#262626", "fillColor": "white"}}
             }}
          ]
        }
      ]
    },
    {
      "spacing": 22.3,
      "resolve": {"scale": {"strokeDash": "independent"}, "legend": {"strokeDash": "independent"}},
      "hconcat": [
        {
          "width": 405.7, "height": 232,
          "layer": [
            {"data": {"name": "ev"}, "mark": {"type": "rule", "strokeDash": [6, 4], "strokeWidth": 1.2, "color": "black"}, "encoding": {"x": {"field": "t", "type": "quantitative"}}},
            {"data": {"name": "c"}, "mark": {"type": "line", "clip": true, "color": "black", "strokeWidth": 2.5},
             "encoding": {
               "x": {"field": "t", "type": "quantitative", "scale": {"domain": [5, 120], "range": [8.7, 405.7], "nice": false, "zero": false}, "axis": {"values": [20, 40, 60, 80, 100, 120], "title": ["Time (s)", "(c)"], "titleLineHeight": 20.5}},
               "y": {"field": "v", "type": "quantitative", "scale": {"domain": [0, 10], "nice": false}, "axis": {"values": [0, 2, 4, 6, 8, 10], "format": "d", "title": "LVAD flow rate (L/min)", "titlePadding": 15.7, "offset": -8.7}},
               "strokeDash": {"field": "m", "type": "nominal", "scale": {"domain": ["CS", "PI-FS", "CMO-MPC"], "range": [[1, 0], [11, 6], [2.5, 3]]}, "legend": null}
             }}
          ]
        },
        {
          "width": 395, "height": 232,
          "layer": [
            {"data": {"name": "ev"}, "mark": {"type": "rule", "strokeDash": [6, 4], "strokeWidth": 1.2, "color": "black"}, "encoding": {"x": {"field": "t", "type": "quantitative"}}},
            {"data": {"name": "d"}, "mark": {"type": "line", "clip": true, "color": "black", "strokeWidth": 2.5},
             "encoding": {
               "x": {"field": "t", "type": "quantitative", "scale": {"domain": [5, 120], "nice": false, "zero": false}, "axis": {"values": [20, 40, 60, 80, 100, 120], "title": ["Time (s)", "(d)"], "titleLineHeight": 20.5}},
               "y": {"field": "v", "type": "quantitative", "scale": {"domain": [0, 10], "nice": false}, "axis": {"values": [0, 2, 4, 6, 8, 10], "format": "d", "title": "RVAD flow rate (L/min)", "titlePadding": 6}},
               "strokeDash": {"field": "m", "type": "nominal", "scale": {"domain": ["CS", "PI-FS", "CMO-MPC"], "range": [[1, 0], [11, 6], [2.5, 3]]}, "legend": null}
             }}
          ]
        }
      ]
    },
    {
      "spacing": 28,
      "resolve": {"scale": {"strokeDash": "independent"}, "legend": {"strokeDash": "independent"}},
      "hconcat": [
        {
          "width": 397, "height": 232,
          "layer": [
            {"data": {"name": "ev"}, "mark": {"type": "rule", "strokeDash": [6, 4], "strokeWidth": 1.2, "color": "black"}, "encoding": {"x": {"field": "t", "type": "quantitative"}}},
            {"data": {"name": "lim"}, "mark": {"type": "rule", "color": "#ff0000", "strokeWidth": 1.3}, "encoding": {"y": {"field": "lv", "type": "quantitative"}}},
            {"data": {"name": "e"}, "mark": {"type": "line", "clip": true, "color": "black", "strokeWidth": 2.5},
             "encoding": {
               "x": {"field": "t", "type": "quantitative", "scale": {"domain": [5, 120], "nice": false, "zero": false}, "axis": {"values": [20, 40, 60, 80, 100, 120], "title": ["Time (s)", "(e)"], "titleLineHeight": 25}},
               "y": {"field": "v", "type": "quantitative", "scale": {"domain": [0, 20], "nice": false}, "axis": {"values": [0, 5, 10, 15, 20], "format": "d", "title": "LAP (mmHg)", "titlePadding": 7}},
               "strokeDash": {"field": "m", "type": "nominal", "scale": {"domain": ["CS", "PI-FS", "CMO-MPC"], "range": [[1, 0], [11, 6], [2.5, 3]]}, "legend": null}
             }}
          ]
        },
        {
          "width": 396, "height": 232,
          "layer": [
            {"data": {"name": "ev"}, "mark": {"type": "rule", "strokeDash": [6, 4], "strokeWidth": 1.2, "color": "black"}, "encoding": {"x": {"field": "t", "type": "quantitative"}}},
            {"data": {"name": "lim"}, "mark": {"type": "rule", "color": "#ff0000", "strokeWidth": 1.3}, "encoding": {"y": {"field": "lv", "type": "quantitative"}}},
            {"data": {"name": "f"}, "mark": {"type": "line", "clip": true, "color": "black", "strokeWidth": 2.5},
             "encoding": {
               "x": {"field": "t", "type": "quantitative", "scale": {"domain": [5, 120], "nice": false, "zero": false}, "axis": {"values": [20, 40, 60, 80, 100, 120], "title": ["Time (s)", "(f)"], "titleLineHeight": 25}},
               "y": {"field": "v", "type": "quantitative", "scale": {"domain": [0, 20], "nice": false}, "axis": {"values": [0, 5, 10, 15, 20], "format": "d", "title": "RAP (mmHg)", "titlePadding": 6.3}},
               "strokeDash": {"field": "m", "type": "nominal", "scale": {"domain": ["CS", "PI-FS", "CMO-MPC"], "range": [[1, 0], [11, 6], [2.5, 3]]}, "legend": null}
             }}
          ]
        }
      ]
    },
    {
      "spacing": 29,
      "resolve": {"scale": {"strokeDash": "independent"}, "legend": {"strokeDash": "independent"}},
      "hconcat": [
        {
          "width": 397, "height": 232,
          "resolve": {"scale": {"x": "independent", "y": "independent", "strokeDash": "independent"}, "axis": {"x": "independent", "y": "independent"}},
          "layer": [
            {
              "layer": [
                {"data": {"name": "ev"}, "mark": {"type": "rule", "strokeDash": [6, 4], "strokeWidth": 1.2, "color": "black"}, "encoding": {"x": {"field": "t", "type": "quantitative"}}},
                {"data": {"name": "g"}, "mark": {"type": "line", "clip": true, "color": "black", "strokeWidth": 2.5},
                 "encoding": {
                   "x": {"field": "t", "type": "quantitative", "scale": {"domain": [0, 120], "nice": false, "zero": false}, "axis": {"orient": "bottom", "values": [0, 20, 40, 60, 80, 100, 120], "title": ["Time (s)", "(g)"], "titleLineHeight": 27}},
                   "y": {"field": "v", "type": "quantitative", "scale": {"domain": [0, 20], "nice": false}, "axis": {"orient": "left", "values": [0, 5, 10, 15, 20], "format": "d", "title": "LVEDP (mmHg)", "titlePadding": 7}},
                   "strokeDash": {"field": "m", "type": "nominal", "scale": {"domain": ["CS", "PI-FS", "CMO-MPC"], "range": [[1, 0], [11, 6], [2.5, 3]]}, "legend": null}
                 }}
              ]
            },
            {
              "layer": [
                {"data": {"name": "lim4"}, "mark": {"type": "rule", "color": "#ff0000", "strokeWidth": 3.5},
                 "encoding": {"y": {"field": "lv", "type": "quantitative"}, "x": {"datum": 30}, "x2": {"datum": 50}}},
                {"data": {"name": "gi"}, "mark": {"type": "line", "color": "black", "strokeWidth": 3.2},
                 "encoding": {
                   "x": {"field": "t", "type": "quantitative", "scale": {"domain": [30, 50], "range": [168.3, 338.3], "nice": false, "zero": false}, "axis": {"orient": "bottom", "offset": -124.3, "values": [30, 40, 50], "format": "d", "title": null, "labelFontSize": 22, "labelPadding": 15, "tickSize": -4, "domainColor": "#000000"}},
                   "y": {"field": "v", "type": "quantitative", "scale": {"domain": [3, 5], "range": [107.7, 25.7], "nice": false, "zero": false}, "axis": {"orient": "left", "offset": -168.3, "values": [3, 4, 5], "format": "d", "title": null, "labelFontSize": 22, "labelPadding": 11, "tickSize": -4, "domainColor": "#000000"}},
                   "strokeDash": {"field": "m", "type": "nominal", "scale": {"domain": ["CS", "PI-FS", "CMO-MPC"], "range": [[1, 0], [16, 8], [3.5, 4.5]]}, "legend": null}
                 }}
              ]
            }
          ]
        },
        {
          "width": 395, "height": 237,
          "layer": [
            {"data": {"name": "ev"}, "mark": {"type": "rule", "strokeDash": [6, 4], "strokeWidth": 1.2, "color": "black"}, "encoding": {"x": {"field": "t", "type": "quantitative"}, "y": {"datum": 0}, "y2": {"datum": 20}}},
            {"data": {"name": "h"}, "mark": {"type": "line", "clip": true, "color": "black", "strokeWidth": 2.5},
             "encoding": {
               "x": {"field": "t", "type": "quantitative", "scale": {"domain": [5, 120], "nice": false, "zero": false}, "axis": {"values": [20, 40, 60, 80, 100, 120], "title": ["Time (s)", "(h)"], "titleLineHeight": 26}},
               "y": {"field": "v", "type": "quantitative", "scale": {"domain": [0, 20], "range": [237, 4.7], "nice": false}, "axis": {"values": [0, 5, 10, 15, 20], "format": "d", "title": "RVEDP (mmHg)", "titlePadding": 8}},
               "strokeDash": {"field": "m", "type": "nominal", "scale": {"domain": ["CS", "PI-FS", "CMO-MPC"], "range": [[1, 0], [11, 6], [2.5, 3]]}, "legend": null}
             }}
          ]
        }
      ]
    }
  ]
}
